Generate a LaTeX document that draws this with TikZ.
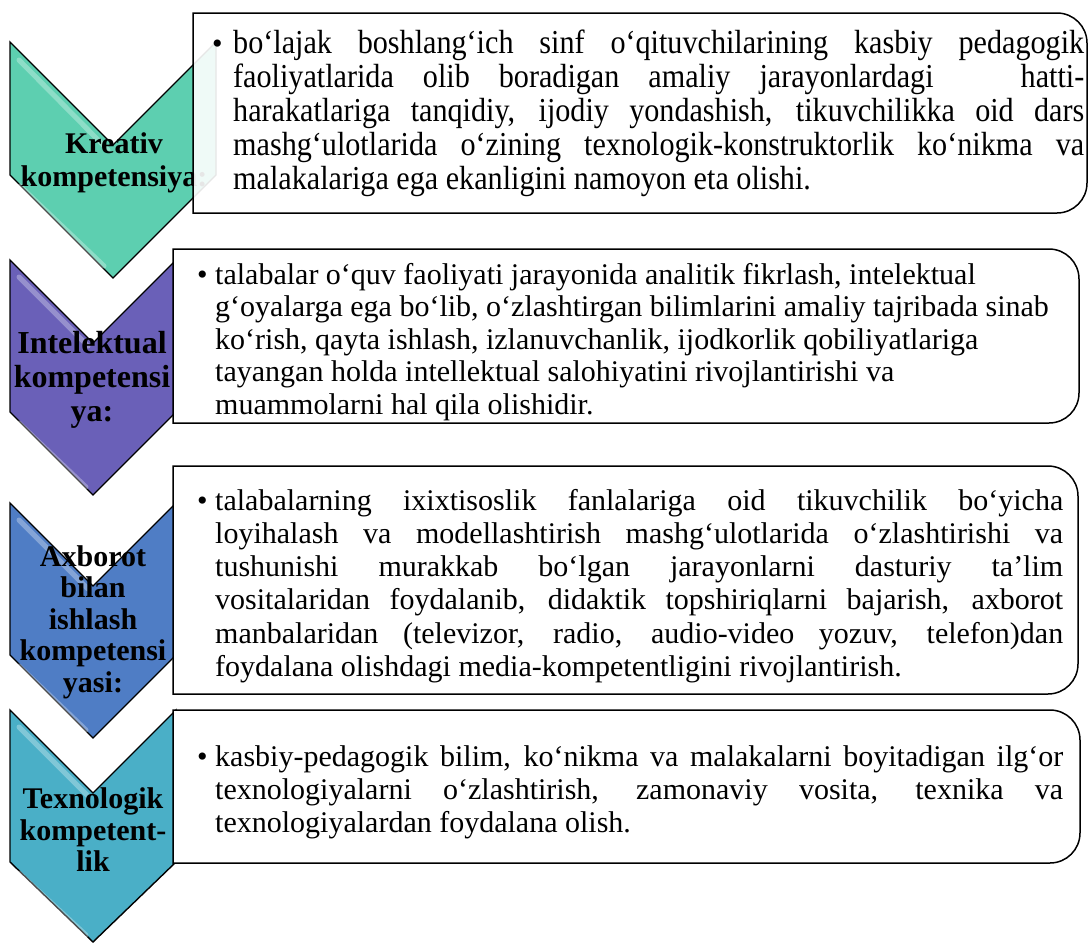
\documentclass[tikz,border=0pt]{standalone}
\usepackage{fontspec}
\setmainfont{Liberation Serif}
\newfontfamily\condfont{Liberation Serif}[FakeStretch=0.9]
\definecolor{chevA}{HTML}{5DCFB0}
\definecolor{chevB}{HTML}{6A60B8}
\definecolor{chevC}{HTML}{4F7DC5}
\definecolor{chevD}{HTML}{4AAFC7}
\newcommand\jline[2]{\hbox to #1{#2}}
\begin{document}
\begin{tikzpicture}[x=1pt,y=-1pt,
  chev/.style={draw=black,line width=1.4pt,line join=miter},
  shine/.style={draw=white,opacity=0.3,line width=5pt,line cap=round},
  boxline/.style={draw=black,line width=1.5pt,fill=white},
  chevtext/.style={align=center,font=\bfseries\fontsize{30}{31.5}\selectfont,inner sep=0pt},
  bodytext/.style={align=left,anchor=north west,inner sep=0pt,font=\fontsize{30}{32.5}\selectfont},
  bul/.style={anchor=base west,inner sep=0pt,font=\fontsize{30}{32.5}\selectfont}]
\useasboundingbox (0,0) rectangle (1088,945);
\fill[white] (0,0) rectangle (1088,945);

% chevrons
\filldraw[chev,fill=chevA] (10,42) -- (113,145) -- (216,42) -- (216,175) -- (113,278) -- (10,175) -- cycle;
\draw[shine] (19,60) -- (108,150);
\draw[shine] (20,186) -- (104,266);
\filldraw[chev,fill=chevB] (10,260) -- (93,343) -- (176,260) -- (176,412) -- (93,495) -- (10,412) -- cycle;
\draw[shine] (19,277) -- (88,346);
\draw[shine] (19,423) -- (86,487);
\filldraw[chev,fill=chevC] (10,503) -- (93,586) -- (176,503) -- (176,655) -- (93,738) -- (10,655) -- cycle;
\draw[shine] (19,520) -- (88,589);
\draw[shine] (19,666) -- (86,730);
\filldraw[chev,fill=chevD] (10,710) -- (93,793) -- (176,710) -- (176,862) -- (93,942) -- (10,862) -- cycle;
\draw[shine] (19,727) -- (88,796);
\draw[shine] (19,873) -- (86,935);

\node[chevtext,font=\bfseries\fontsize{30}{33}\selectfont] (k1) at (114,163) {Kreativ\\kompetensiya:};
\node[chevtext,font=\bfseries\fontsize{32}{34}\selectfont] (k2) at (92,380) {Intelektual\\kompetensi\\ya:};
\node[chevtext] (k3) at (93,622) {Axborot\\bilan\\ishlash\\kompetensi\\yasi:};
\node[chevtext] (k4) at (93,830) {Texnologik\\kompetent-\\lik};

% boxes
\path[boxline,fill opacity=0.9] (193,13) -- (1057,13) arc[start angle=-90,end angle=0,radius=30] -- (1087,183) arc[start angle=0,end angle=90,radius=30] -- (193,213) -- cycle;
\path[boxline] (173,249) -- (1049,249) arc[start angle=-90,end angle=0,radius=30] -- (1079,393) arc[start angle=0,end angle=90,radius=30] -- (173,423) -- cycle;
\path[boxline] (173,466) -- (1048,466) arc[start angle=-90,end angle=0,radius=30] -- (1078,664) arc[start angle=0,end angle=90,radius=30] -- (173,694) -- cycle;
\path[boxline] (173,710) -- (1050,710) arc[start angle=-90,end angle=0,radius=30] -- (1080,833) arc[start angle=0,end angle=90,radius=30] -- (173,863) -- cycle;

% box 1 text
\node[bul] (b1) at (212,53) {•};
\node[bodytext,font=\condfont\fontsize{33.5}{34}\selectfont] (t1) at (233,53-23.8) {%
\strut\jline{851pt}{bo‘lajak boshlang‘ich sinf o‘qituvchilarining kasbiy pedagogik}\\
\jline{851pt}{faoliyatlarida olib boradigan amaliy jarayonlardagi\ \ \ hatti-}\\
\jline{851pt}{harakatlariga tanqidiy, ijodiy yondashish, tikuvchilikka oid dars}\\
\jline{851pt}{mashg‘ulotlarida o‘zining texnologik-konstruktorlik ko‘nikma va}\\
malakalariga ega ekanligini namoyon eta olishi.};

% box 2 text
\node[bul] (b2) at (197,284) {•};
\node[bodytext] (t2) at (215,284-22.75) {%
\strut talabalar o‘quv faoliyati jarayonida analitik fikrlash, intelektual\\
g‘oyalarga ega bo‘lib, o‘zlashtirgan bilimlarini amaliy tajribada sinab\\
ko‘rish, qayta ishlash, izlanuvchanlik, ijodkorlik qobiliyatlariga\\
tayangan holda intellektual salohiyatini rivojlantirishi va\\
muammolarni hal qila olishidir.};

% box 3 text
\node[bul] (b3) at (197,510) {•};
\node[bodytext,font=\fontsize{30}{33.2}\selectfont] (t3) at (215,510-23.24) {%
\strut\jline{848pt}{talabalarning ixixtisoslik fanlalariga oid tikuvchilik bo‘yicha}\\
\jline{848pt}{loyihalash va modellashtirish mashg‘ulotlarida o‘zlashtirishi va}\\
\jline{848pt}{tushunishi murakkab bo‘lgan jarayonlarni dasturiy ta’lim}\\
\jline{848pt}{vositalaridan foydalanib, didaktik topshiriqlarni bajarish, axborot}\\
\jline{848pt}{manbalaridan (televizor, radio, audio-video yozuv, telefon)dan}\\
foydalana olishdagi media-kompetentligini rivojlantirish.};

% box 4 text
\node[bul] (b4) at (197,766) {•};
\node[bodytext,font=\fontsize{30}{33}\selectfont] (t4) at (215,766-23.1) {%
\strut\jline{848pt}{kasbiy-pedagogik bilim, ko‘nikma va malakalarni boyitadigan ilg‘or}\\
\jline{848pt}{texnologiyalarni o‘zlashtirish, zamonaviy vosita, texnika va}\\
texnologiyalardan foydalana olish.};
\end{tikzpicture}
\end{document}
